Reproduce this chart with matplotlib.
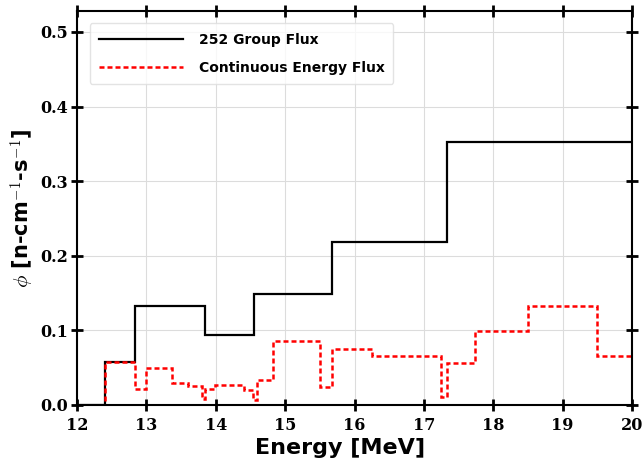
import numpy as np
import matplotlib.pyplot as plt

plt.rcParams['mathtext.fontset'] = 'cm'

# 252-group flux (bin edges in MeV, one value per bin)
grp_edges = [12.0, 12.4, 12.84, 13.84, 14.55, 15.68, 17.33, 20.0]
grp_flux = [0.0, 0.057, 0.132, 0.094, 0.149, 0.218, 0.352]

# continuous-energy tally, finer bins
ce_edges = [12.0, 12.4, 12.84, 12.99, 13.37, 13.6, 13.8, 13.85, 13.99, 14.4,
            14.54, 14.6, 14.83, 15.5, 15.68, 16.25, 17.24, 17.33, 17.74,
            18.5, 19.49, 20.0]
ce_flux = [0.0, 0.057, 0.021, 0.049, 0.030, 0.026, 0.008, 0.022, 0.027,
           0.020, 0.007, 0.033, 0.086, 0.024, 0.075, 0.066, 0.011, 0.056,
           0.099, 0.133, 0.066]

fig = plt.figure(figsize=(6.44, 4.62), dpi=100)
ax = fig.add_axes([0.1196, 0.1234, 0.8618, 0.8528])

ax.stairs(grp_flux, grp_edges, baseline=None, color='black', lw=1.6,
          label='252 Group Flux')
ax.stairs(ce_flux, ce_edges, baseline=None, color='red', lw=1.8,
          linestyle=(0, (2, 1.2)), label='Continuous Energy Flux')

ax.set_xlim(12, 20)
ax.set_ylim(0, 0.528)
ax.set_xticks(np.arange(12, 21, 1))
ax.set_yticks(np.arange(0, 0.51, 0.1))
ax.set_xticklabels([f'{v:d}' for v in range(12, 21)])
ax.set_yticklabels([f'{v:.1f}' for v in np.arange(0, 0.51, 0.1)])
for lab in ax.get_xticklabels() + ax.get_yticklabels():
    lab.set_family('DejaVu Serif')
    lab.set_weight('bold')
    lab.set_fontsize(11.5)
ax.tick_params(which='major', direction='inout', length=9, width=2,
               top=True, right=True)
ax.tick_params(axis='x', pad=4)
ax.tick_params(axis='y', pad=2)
for s in ax.spines.values():
    s.set_linewidth(1.5)
ax.grid(True, color='#dcdcdc', lw=0.8)
ax.set_axisbelow(True)

ax.set_xlabel('Energy [MeV]', fontsize=16, fontweight='bold')
ax.xaxis.set_label_coords(0.474, -0.085)
ax.set_ylabel(r'$\phi$ [n-cm$^{-1}$-s$^{-1}$]', fontsize=15,
              fontweight='bold', labelpad=2)

ax.legend(loc='upper left', prop={'weight': 'bold', 'size': 10},
          handlelength=6.1, handletextpad=1.1, borderpad=0.65,
          labelspacing=1.05, borderaxespad=0.9,
          framealpha=0.8, edgecolor='#dddddd')

fig.savefig('out.png', dpi=100)
